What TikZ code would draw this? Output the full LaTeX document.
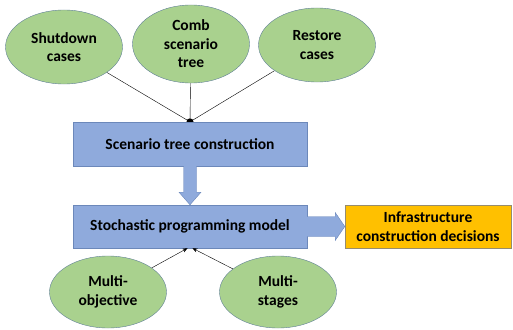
\documentclass[tikz,border=0pt]{standalone}
\usepackage{fontspec}
\setmainfont{Carlito}
\usetikzlibrary{shapes.geometric, arrows.meta, calc, positioning, backgrounds}

\definecolor{leaf}{RGB}{169,209,142}
\definecolor{leafline}{RGB}{96,128,150}
\definecolor{boxblue}{RGB}{143,170,220}
\definecolor{boxline}{RGB}{108,136,186}
\definecolor{gold}{RGB}{255,192,0}
\definecolor{goldline}{RGB}{150,140,110}

\tikzset{
	txt/.style={font=\bfseries\fontsize{15.5}{18.5}\selectfont, align=center, inner sep=0pt},
	oval/.style={txt, ellipse, draw=leafline, fill=leaf, minimum width=117pt, minimum height=74pt},
	bluebox/.style={txt, rectangle, draw=boxline, fill=boxblue, minimum width=234pt, minimum height=43pt},
	goldbox/.style={txt, rectangle, draw=goldline, fill=gold, minimum width=166pt, minimum height=43pt},
	blockarrow/.style={draw=boxline, fill=boxblue}
}

\begin{document}
\begin{tikzpicture}[x=1pt,y=-1pt]
	\useasboundingbox (0,0) rectangle (513,329);

		% top inputs
		\node[oval] (shut) at (64,47) {Shutdown\\cases};
		\node[oval, minimum height=78pt] (comb) at (191,44) {Comb\\scenario\\tree};
		\node[oval] (rest) at (317,45) {Restore\\cases};

		% main blocks
		\node[bluebox, minimum height=44pt] (scen) at (190,144) {Scenario tree construction};
		\node[bluebox] (stoch) at (190,226.5) {Stochastic programming model};
		\node[goldbox] (infra) at (428,226.5) {Infrastructure\\construction decisions};

		% bottom inputs
		\node[oval, minimum height=72pt] (obj) at (108,292) {Multi-\\objective};
		\node[oval, minimum height=72pt] (stag) at (278,292) {Multi-\\stages};

		\coordinate (join) at (scen.north);
		\coordinate (inL) at ($(stoch.south)+(-2.5,0)$);
		\coordinate (inR) at ($(stoch.south)+(2.5,0)$);

		\begin{scope}[on background layer]
			\draw[thin] (shut) -- (join);
			\draw[thin] (comb) -- (join);
			\draw[thin] (rest) -- (join);
			\fill (join) circle (3.5pt);
		\end{scope}

		\draw[thin, -{Stealth[length=5pt,width=4pt]}] (obj) -- (inL);
		\draw[thin, -{Stealth[length=5pt,width=4pt]}] (stag) -- (inR);

		% block arrows
		\draw[blockarrow] ($(scen.south)+(-6.5,0)$) -- ++(0,26) -- ++(-4.5,0)
			-- (stoch.north) -- ($(scen.south)+(11,26)$) -- ++(-4.5,0) -- ++(0,-26);
		\draw[blockarrow] ($(stoch.east)+(0,-10)$) -- ++(28,0) -- ++(0,-4)
			-- (infra.west) -- ($(stoch.east)+(28,14)$) -- ++(0,-4) -- ++(-28,0);

	\end{tikzpicture}
\end{document}
